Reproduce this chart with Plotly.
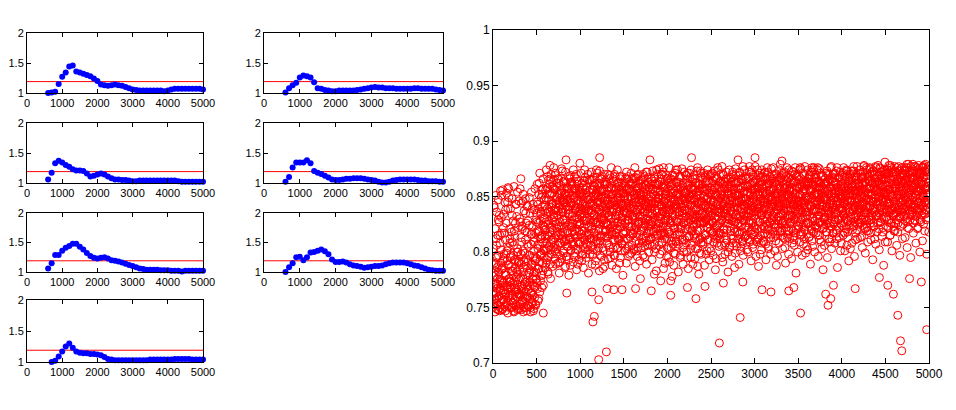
import plotly.graph_objects as go

# ---------------- data ----------------
small_x = list(range(600, 5001, 100))  # sample positions of the small-panel curves
threshold = 1.19

panel1 = [1.00, 1.01, 1.02, 1.15, 1.27, 1.34, 1.44, 1.46, 1.36, 1.34, 1.32, 1.30, 1.28, 1.24, 1.20,
          1.14, 1.13, 1.12, 1.13, 1.14, 1.13, 1.12, 1.10, 1.08, 1.06, 1.05, 1.04, 1.04, 1.04, 1.04,
          1.04, 1.04, 1.04, 1.03, 1.04, 1.06, 1.07, 1.07, 1.07, 1.07, 1.07, 1.07, 1.07, 1.07, 1.06]
panel2 = [1.01, 1.08, 1.13, 1.17, 1.26, 1.29, 1.28, 1.26, 1.18, 1.08, 1.07, 1.05, 1.04, 1.03, 1.03,
          1.04, 1.04, 1.04, 1.04, 1.04, 1.05, 1.06, 1.07, 1.08, 1.09, 1.10, 1.09, 1.09, 1.08, 1.08,
          1.08, 1.07, 1.07, 1.07, 1.07, 1.07, 1.08, 1.08, 1.07, 1.07, 1.07, 1.07, 1.06, 1.05, 1.04]
panel3 = [1.06, 1.17, 1.33, 1.37, 1.34, 1.30, 1.27, 1.23, 1.21, 1.21, 1.20, 1.16, 1.11, 1.12, 1.14,
          1.16, 1.14, 1.11, 1.08, 1.06, 1.06, 1.05, 1.05, 1.04, 1.03, 1.03, 1.04, 1.04, 1.04, 1.04,
          1.04, 1.04, 1.04, 1.04, 1.04, 1.04, 1.04, 1.03, 1.02, 1.02, 1.02, 1.02, 1.02, 1.02, 1.02]
panel4 = [1.02, 1.10, 1.26, 1.34, 1.34, 1.34, 1.38, 1.33, 1.20, 1.17, 1.15, 1.12, 1.09, 1.06, 1.05,
          1.05, 1.06, 1.07, 1.07, 1.08, 1.08, 1.08, 1.07, 1.06, 1.05, 1.04, 1.02, 1.01, 1.01, 1.02,
          1.04, 1.05, 1.06, 1.06, 1.06, 1.06, 1.06, 1.05, 1.04, 1.04, 1.03, 1.03, 1.03, 1.02, 1.02]
panel5 = [1.06, 1.15, 1.29, 1.29, 1.36, 1.41, 1.44, 1.48, 1.48, 1.43, 1.38, 1.32, 1.27, 1.24, 1.23,
          1.24, 1.25, 1.23, 1.20, 1.19, 1.18, 1.16, 1.14, 1.12, 1.10, 1.08, 1.06, 1.05, 1.04, 1.04,
          1.04, 1.04, 1.03, 1.03, 1.03, 1.02, 1.02, 1.02, 1.01, 1.02, 1.02, 1.02, 1.02, 1.02, 1.02]
panel6 = [1.00, 1.08, 1.15, 1.25, 1.26, 1.20, 1.25, 1.33, 1.34, 1.36, 1.38, 1.35, 1.30, 1.21, 1.17,
          1.17, 1.18, 1.16, 1.13, 1.11, 1.10, 1.09, 1.07, 1.08, 1.09, 1.10, 1.10, 1.11, 1.13, 1.15,
          1.16, 1.16, 1.16, 1.16, 1.15, 1.13, 1.11, 1.10, 1.08, 1.06, 1.04, 1.03, 1.02, 1.02, 1.02]
panel7 = [0.98, 1.00, 1.02, 1.09, 1.17, 1.25, 1.30, 1.23, 1.17, 1.15, 1.14, 1.14, 1.13, 1.13, 1.12,
          1.11, 1.08, 1.05, 1.04, 1.03, 1.03, 1.03, 1.03, 1.03, 1.03, 1.03, 1.03, 1.03, 1.03, 1.04,
          1.04, 1.04, 1.04, 1.04, 1.04, 1.04, 1.05, 1.05, 1.05, 1.05, 1.05, 1.04, 1.04, 1.04, 1.04]
panels = [panel1, panel2, panel3, panel4, panel5, panel6, panel7]

# big scatter cloud, values in thousandths, samples evenly spread over 0..5000
cloud_a = [
    762, 781, 753, 840, 771, 758, 795, 749, 806, 767, 776, 752, 829, 788, 760, 747, 815, 773, 755, 851,
    770, 748, 786, 763, 822, 757, 794, 751, 769, 838, 779, 754, 801, 766, 745, 789, 857, 761, 774, 812,
    756, 783, 768, 750, 833, 772, 759, 797, 746, 819, 764, 785, 752, 843, 777, 760, 803, 749, 791, 766,
    775, 753, 827, 761, 789, 748, 809, 767, 756, 846, 782, 750, 771, 799, 758, 835, 764, 747, 818, 779,
    759, 792, 751, 824, 770, 784, 746, 807, 763, 755, 839, 776, 761, 796, 749, 813, 768, 787, 752, 829,
    781, 845, 767, 803, 826, 758, 862, 791, 814, 774, 836, 799, 768, 852, 808, 783, 831, 795, 820, 842,
    812, 856, 790, 835, 803, 868, 782, 825, 847, 797, 861, 818, 776, 840, 809, 853, 829, 787, 844, 865,
    832, 851, 806, 869, 789, 843, 822, 858, 798, 837, 815, 862, 781, 846, 827, 808, 855, 794, 839, 873,
    818, 847, 801, 864, 829, 786, 852, 811, 841, 796, 859, 824, 805, 848, 779, 834, 866, 813, 845, 802,
    844, 807, 857, 826, 791, 849, 816, 868, 799, 838, 853, 821, 784, 861, 830, 809, 846, 793, 856, 825,
    809, 854, 835, 797, 862, 819, 843, 786, 850, 828, 803, 867, 815, 839, 795, 858, 831, 806, 847, 781,
    851, 823, 798, 865, 837, 812, 844, 789, 856, 827, 802, 860, 834, 817, 848, 792, 853, 826, 810, 871,
    827, 845, 804, 859, 783, 838, 866, 813, 849, 796, 834, 855, 820, 801, 863, 829, 787, 846, 818, 852,
    840, 808, 861, 825, 794, 852, 833, 816, 869, 800, 843, 822, 857, 788, 836, 848, 811, 864, 827, 797,
    815, 856, 830, 785, 847, 821, 862, 804, 839, 853, 812, 868, 795, 843, 826, 858, 807, 834, 779, 850,
    853, 819, 844, 801, 866, 835, 790, 857, 828, 812, 848, 863, 823, 798, 840, 855, 816, 871, 832, 806,
    829, 862, 803, 845, 820, 853, 787, 838, 867, 814, 849, 796, 858, 825, 841, 808, 864, 832, 776, 851,
    846, 812, 859, 831, 797, 854, 822, 868, 805, 841, 826, 860, 789, 848, 817, 835, 863, 800, 843, 828,
    807, 850, 825, 866, 839, 793, 856, 818, 844, 831, 780, 861, 814, 848, 803, 857, 835, 870, 821, 845,
    861, 826, 843, 798, 855, 817, 870, 834, 809, 849, 823, 785, 858, 841, 812, 864, 829, 852, 796, 838,
    820, 848, 803, 862, 836, 791, 853, 828, 866, 810, 845, 778, 857, 824, 840, 799, 869, 833, 815, 851,
    843, 805, 859, 827, 846, 782, 863, 818, 836, 852, 797, 867, 823, 840, 811, 855, 789, 848, 831, 872,
    811, 854, 832, 869, 800, 845, 821, 860, 785, 838, 850, 814, 866, 829, 795, 857, 842, 806, 863, 825,
    858, 823, 840, 794, 862, 816, 849, 833, 873, 803, 844, 827, 780, 855, 837, 812, 868, 846, 798, 831,
    834, 866, 809, 850, 826, 788, 857, 841, 815, 863, 830, 801, 848, 822, 870, 837, 793, 853, 819, 845,
    801, 847, 862, 828, 842, 797, 856, 815, 868, 835, 784, 851, 824, 843, 808, 860, 832, 874, 817, 839,
    849, 817, 835, 870, 806, 852, 829, 791, 861, 843, 820, 857, 798, 846, 834, 866, 811, 838, 855, 782,
    826, 861, 843, 804, 858, 819, 837, 867, 796, 849, 831, 812, 864, 840, 786, 853, 827, 869, 808, 844,
    864, 830, 812, 851, 789, 846, 872, 823, 839, 805, 858, 836, 818, 866, 797, 848, 833, 855, 814, 841,
    815, 848, 867, 832, 854, 800, 843, 826, 877, 809, 851, 838, 792, 862, 820, 845, 869, 807, 836, 857,
    840, 822, 856, 796, 865, 834, 811, 852, 843, 787, 860, 827, 871, 815, 848, 833, 802, 858, 824, 868,
    853, 809, 838, 866, 821, 849, 793, 861, 830, 844, 816, 872, 805, 855, 839, 826, 864, 798, 847, 831,
    828, 869, 845, 813, 857, 836, 801, 863, 822, 850, 788, 841, 867, 819, 853, 832, 808, 860, 844, 879,
    867, 834, 819, 852, 803, 846, 828, 871, 839, 812, 858, 790, 843, 825, 864, 851, 816, 837, 798, 856,
    812, 857, 840, 827, 865, 794, 848, 833, 819, 862, 845, 806, 870, 829, 853, 781, 841, 868, 824, 850,
    846, 823, 868, 809, 851, 838, 875, 816, 844, 797, 859, 831, 807, 863, 842, 820, 855, 799, 836, 864,
    833, 861, 802, 847, 826, 866, 814, 855, 789, 842, 872, 821, 849, 805, 860, 837, 818, 867, 828, 853,
    859, 817, 843, 874, 830, 852, 796, 864, 839, 811, 856, 827, 845, 868, 803, 841, 858, 784, 849, 822,
    806, 848, 831, 862, 818, 857, 841, 795, 870, 826, 852, 836, 809, 865, 844, 823, 877, 812, 855, 838,
    842, 870, 825, 853, 808, 863, 834, 849, 817, 858, 786, 845, 829, 867, 813, 852, 840, 801, 861, 831,
    824, 856, 862, 815, 844, 833, 868, 801, 851, 838, 821, 873, 806, 847, 859, 828, 792, 864, 836, 853,
    865, 832, 847, 808, 859, 873, 823, 841, 855, 796, 867, 839, 817, 852, 844, 877, 812, 861, 829, 848,
    837, 874, 813, 856, 829, 848, 866, 804, 843, 861, 822, 878, 835, 851, 799, 863, 840, 819, 857, 871,
    852, 819, 868, 840, 875, 826, 857, 811, 846, 870, 833, 793, 862, 848, 823, 866, 838, 855, 807, 876,
    818, 863, 845, 878, 831, 854, 802, 869, 840, 827, 859, 872, 814, 849, 836, 865, 788, 853, 842, 874,
    860, 836, 871, 823, 852, 809, 866, 844, 878, 829, 856, 815, 862, 839, 874, 801, 850, 833, 868, 846,
    843, 877, 819, 858, 835, 869, 806, 851, 864, 826, 873, 840, 855, 797, 867, 832, 859, 845, 876, 812,
    871, 825, 856, 840, 874, 813, 862, 849, 830, 867, 804, 858, 843, 879, 821, 853, 838, 869, 795, 861,
    834, 866, 849, 879, 817, 857, 841, 873, 828, 862, 808, 851, 876, 837, 864, 822, 855, 871, 845, 800,
    858, 827, 872, 844, 863, 810, 876, 850, 835, 868, 819, 857, 879, 842, 866, 798, 853, 874, 831, 862,
]
cloud_b = [
    751, 768, 790, 757, 746, 779, 763, 812, 754, 786, 771, 748, 797, 760, 833, 775, 750, 765, 802, 784,
    758, 774, 749, 792, 766, 755, 817, 781, 747, 763, 799, 752, 770, 845, 759, 788, 776, 750, 808, 767,
    773, 750, 787, 761, 809, 754, 779, 747, 768, 793, 757, 826, 764, 751, 782, 771, 748, 800, 762, 790,
    749, 784, 762, 753, 798, 770, 757, 821, 776, 746, 765, 791, 755, 773, 811, 750, 787, 760, 842, 769,
    766, 752, 781, 797, 758, 773, 750, 789, 763, 816, 754, 778, 747, 801, 769, 759, 792, 753, 775, 835,
    794, 772, 818, 756, 839, 785, 807, 764, 828, 798, 849, 779, 815, 790, 857, 770, 823, 803, 837, 786,
    801, 827, 847, 793, 858, 815, 780, 836, 805, 852, 789, 823, 866, 811, 798, 843, 820, 857, 804, 831,
    813, 838, 794, 856, 825, 803, 847, 818, 866, 790, 833, 852, 808, 841, 797, 860, 823, 815, 849, 836,
    836, 799, 821, 853, 810, 844, 787, 862, 829, 805, 850, 817, 838, 793, 857, 826, 812, 869, 801, 842,
    822, 861, 809, 835, 848, 796, 856, 819, 840, 803, 866, 831, 814, 851, 789, 843, 827, 858, 807, 834,
    839, 816, 850, 792, 831, 858, 806, 845, 823, 864, 811, 837, 798, 853, 828, 842, 815, 870, 802, 847,
    817, 843, 829, 856, 806, 838, 865, 821, 797, 849, 833, 812, 859, 840, 788, 827, 852, 814, 845, 801,
    850, 808, 836, 821, 862, 797, 845, 830, 856, 815, 868, 804, 841, 826, 850, 793, 834, 861, 819, 838,
    826, 855, 814, 847, 833, 806, 866, 821, 842, 795, 858, 830, 818, 852, 839, 803, 846, 824, 870, 811,
    845, 820, 858, 836, 803, 849, 827, 812, 863, 834, 790, 855, 822, 844, 808, 868, 831, 841, 817, 853,
    810, 837, 826, 859, 818, 844, 803, 866, 835, 850, 796, 829, 857, 814, 840, 823, 861, 799, 848, 832,
    855, 816, 840, 802, 867, 831, 848, 822, 810, 857, 836, 869, 804, 845, 827, 853, 792, 838, 861, 819,
    823, 849, 808, 865, 836, 819, 843, 795, 857, 830, 814, 852, 839, 872, 806, 844, 825, 858, 811, 835,
    840, 812, 861, 827, 846, 805, 834, 857, 819, 866, 800, 843, 829, 851, 783, 862, 837, 816, 848, 826,
    806, 851, 832, 863, 815, 842, 822, 870, 801, 836, 859, 817, 846, 828, 790, 855, 833, 844, 812, 866,
    857, 834, 795, 843, 818, 865, 826, 849, 804, 838, 861, 813, 832, 853, 788, 846, 822, 871, 841, 809,
    828, 863, 816, 839, 852, 807, 844, 830, 868, 795, 856, 821, 847, 811, 835, 860, 826, 800, 850, 838,
    846, 821, 853, 808, 837, 862, 795, 849, 827, 814, 871, 833, 842, 803, 858, 819, 847, 831, 789, 856,
    815, 848, 829, 866, 803, 839, 854, 820, 845, 787, 862, 831, 811, 851, 826, 873, 808, 842, 835, 858,
    861, 807, 842, 827, 855, 816, 869, 834, 798, 848, 822, 864, 811, 840, 853, 829, 803, 858, 836, 819,
    833, 856, 817, 871, 826, 846, 809, 838, 860, 822, 852, 794, 843, 867, 813, 836, 851, 825, 805, 863,
    812, 839, 864, 828, 851, 795, 843, 870, 817, 835, 859, 806, 848, 826, 866, 839, 820, 853, 832, 800,
    852, 829, 805, 846, 837, 863, 815, 853, 828, 872, 808, 841, 856, 821, 845, 799, 862, 834, 851, 818,
    825, 857, 840, 869, 816, 832, 853, 801, 847, 866, 824, 839, 810, 858, 842, 828, 874, 813, 846, 833,
    848, 831, 802, 859, 838, 867, 822, 845, 811, 853, 835, 872, 816, 841, 856, 804, 837, 850, 823, 862,
    818, 864, 836, 851, 809, 843, 874, 827, 858, 813, 840, 854, 798, 846, 867, 821, 835, 861, 810, 844,
    837, 823, 859, 845, 872, 807, 852, 834, 866, 820, 848, 803, 839, 862, 827, 855, 816, 842, 875, 829,
    866, 841, 818, 856, 832, 870, 825, 846, 810, 861, 837, 853, 796, 849, 828, 864, 841, 819, 857, 835,
    829, 852, 871, 815, 843, 826, 860, 837, 856, 804, 848, 868, 822, 840, 859, 813, 850, 833, 874, 819,
    855, 833, 847, 869, 821, 858, 808, 843, 872, 830, 811, 856, 839, 864, 817, 848, 834, 859, 800, 842,
    821, 865, 838, 852, 876, 815, 846, 829, 861, 840, 823, 855, 870, 812, 844, 836, 862, 826, 850, 805,
    847, 826, 860, 836, 813, 869, 842, 855, 823, 848, 866, 810, 857, 831, 874, 839, 852, 800, 845, 863,
    836, 853, 822, 864, 846, 815, 858, 833, 875, 826, 842, 862, 809, 850, 838, 869, 821, 847, 831, 857,
    862, 829, 855, 840, 871, 818, 847, 863, 834, 852, 812, 866, 843, 826, 858, 837, 803, 853, 844, 870,
    817, 849, 836, 867, 829, 856, 842, 873, 812, 846, 861, 830, 854, 839, 822, 868, 844, 857, 808, 851,
    848, 837, 871, 826, 859, 843, 817, 864, 835, 852, 874, 829, 846, 813, 861, 840, 856, 824, 869, 803,
    831, 858, 842, 866, 820, 851, 838, 873, 827, 845, 862, 811, 856, 834, 869, 848, 825, 842, 859, 836,
    860, 826, 852, 839, 867, 814, 857, 845, 872, 830, 849, 836, 863, 821, 854, 841, 876, 828, 848, 809,
    838, 864, 829, 857, 842, 870, 817, 851, 835, 862, 845, 826, 873, 840, 858, 812, 849, 866, 833, 855,
    856, 833, 868, 846, 821, 862, 850, 838, 875, 827, 853, 841, 866, 818, 859, 845, 831, 870, 852, 809,
    831, 870, 847, 859, 838, 874, 822, 856, 843, 866, 815, 852, 837, 876, 826, 861, 848, 835, 872, 819,
    866, 840, 857, 826, 872, 849, 836, 863, 818, 854, 877, 831, 859, 845, 868, 823, 852, 838, 864, 842,
    846, 862, 833, 870, 853, 828, 866, 841, 857, 876, 822, 850, 837, 864, 845, 872, 829, 856, 843, 867,
    859, 838, 873, 849, 826, 865, 853, 840, 877, 832, 858, 846, 869, 821, 855, 874, 836, 861, 848, 829,
    842, 871, 856, 833, 867, 850, 877, 825, 861, 845, 873, 838, 858, 829, 866, 852, 875, 840, 863, 818,
]
cloud_c = [
    803, 778, 842, 764, 821, 789, 851, 771, 836, 796, 758, 815, 847, 782, 827, 767, 808, 855, 790, 831,
    817, 785, 856, 772, 834, 798, 762, 845, 811, 779, 826, 853, 792, 768, 839, 804, 849, 776, 821, 795,
    839, 796, 818, 761, 848, 783, 828, 806, 859, 774, 814, 792, 843, 766, 832, 800, 854, 780, 822, 846,
    792, 830, 857, 777, 813, 844, 769, 823, 801, 852, 786, 837, 760, 819, 848, 794, 826, 773, 841, 807,
    828, 805, 781, 849, 797, 835, 763, 816, 854, 788, 824, 770, 843, 809, 782, 838, 857, 795, 817, 776,
    827, 861, 806, 843, 785, 852, 819, 871, 797, 834, 812, 856, 779, 841, 824, 866, 801, 847, 830, 815,
    849, 820, 874, 808, 839, 857, 795, 865, 828, 814, 852, 836, 802, 870, 843, 822, 859, 811, 834, 876,
    857, 827, 801, 871, 840, 815, 862, 833, 849, 806, 866, 823, 844, 791, 853, 817, 836, 875, 812, 846,
    829, 863, 845, 809, 851, 826, 872, 838, 796, 857, 819, 847, 834, 868, 811, 853, 841, 788, 860, 823,
    863, 832, 818, 851, 874, 806, 842, 829, 857, 813, 839, 870, 825, 847, 802, 864, 836, 818, 852, 880,
    826, 846, 871, 813, 838, 853, 798, 860, 835, 819, 874, 842, 828, 856, 807, 849, 865, 823, 837, 815,
    838, 865, 812, 848, 826, 872, 835, 857, 805, 843, 867, 818, 851, 829, 862, 809, 840, 874, 831, 856,
    861, 819, 851, 838, 873, 825, 810, 854, 841, 866, 829, 848, 785, 857, 837, 870, 814, 843, 863, 826,
    813, 847, 835, 870, 824, 858, 843, 804, 862, 831, 852, 876, 816, 845, 823, 866, 838, 797, 855, 842,
    868, 833, 817, 852, 839, 874, 826, 848, 810, 859, 837, 823, 866, 846, 801, 854, 829, 862, 842, 816,
    836, 862, 849, 826, 853, 812, 872, 840, 856, 829, 868, 805, 843, 861, 834, 819, 850, 838, 866, 823,
    842, 817, 866, 851, 833, 876, 824, 859, 845, 801, 855, 838, 870, 827, 862, 815, 847, 833, 853, 804,
    865, 839, 828, 847, 870, 813, 851, 836, 861, 824, 845, 872, 810, 856, 841, 829, 867, 848, 819, 858,
    823, 856, 843, 812, 864, 835, 873, 827, 852, 807, 868, 838, 855, 821, 846, 874, 815, 860, 832, 849,
    848, 875, 819, 854, 830, 866, 841, 808, 859, 837, 872, 826, 845, 861, 816, 852, 838, 869, 824, 804,
    866, 829, 851, 838, 876, 816, 842, 860, 826, 853, 835, 869, 807, 848, 862, 821, 843, 855, 798, 874,
    810, 852, 836, 874, 822, 859, 847, 833, 868, 815, 843, 858, 829, 875, 837, 804, 862, 826, 853, 841,
    853, 838, 869, 825, 848, 813, 871, 843, 856, 830, 861, 822, 847, 808, 874, 836, 852, 819, 866, 834,
    831, 869, 847, 856, 812, 862, 838, 825, 851, 876, 819, 843, 860, 834, 799, 857, 828, 871, 846, 813,
    845, 826, 858, 871, 833, 850, 815, 867, 842, 829, 856, 838, 874, 811, 849, 862, 825, 841, 869, 832,
    870, 839, 827, 852, 864, 818, 845, 873, 831, 858, 812, 866, 837, 850, 824, 876, 842, 815, 859, 836,
    826, 862, 848, 816, 855, 877, 833, 844, 869, 821, 851, 838, 863, 808, 847, 872, 830, 857, 841, 866,
    858, 831, 874, 840, 823, 866, 849, 812, 857, 836, 870, 845, 827, 861, 818, 852, 875, 833, 846, 805,
    838, 851, 826, 863, 845, 871, 817, 856, 832, 848, 865, 809, 843, 877, 829, 854, 840, 868, 822, 859,
    866, 823, 854, 843, 812, 859, 835, 872, 828, 846, 861, 819, 857, 833, 874, 841, 826, 863, 848, 815,
    853, 877, 830, 845, 866, 821, 858, 839, 812, 869, 836, 851, 827, 863, 842, 808, 874, 833, 857, 846,
    829, 848, 871, 817, 854, 840, 866, 825, 859, 876, 834, 847, 862, 821, 850, 868, 837, 813, 856, 843,
    847, 833, 858, 876, 825, 862, 841, 853, 815, 870, 829, 845, 865, 838, 822, 857, 874, 832, 849, 818,
    841, 869, 826, 848, 864, 835, 813, 857, 872, 844, 827, 861, 838, 852, 876, 819, 846, 866, 830, 855,
    867, 826, 861, 838, 849, 873, 832, 857, 814, 864, 843, 829, 852, 876, 837, 820, 868, 845, 858, 831,
    836, 857, 843, 874, 827, 851, 866, 818, 860, 835, 871, 846, 825, 857, 840, 877, 831, 849, 863, 816,
    859, 840, 874, 826, 863, 850, 833, 869, 841, 856, 819, 872, 845, 828, 861, 838, 876, 852, 823, 866,
    824, 867, 849, 858, 838, 876, 827, 852, 863, 815, 848, 871, 836, 859, 825, 853, 842, 868, 830, 861,
    850, 833, 866, 847, 825, 861, 873, 838, 855, 829, 869, 843, 821, 858, 876, 834, 851, 866, 840, 817,
    863, 846, 827, 871, 853, 838, 862, 820, 858, 876, 835, 849, 867, 829, 855, 843, 872, 826, 859, 848,
    839, 869, 851, 834, 876, 822, 858, 847, 866, 830, 855, 842, 873, 818, 851, 864, 836, 857, 845, 870,
    855, 828, 873, 846, 861, 837, 852, 877, 824, 868, 841, 856, 832, 865, 849, 820, 871, 838, 854, 862,
    827, 858, 842, 870, 833, 862, 850, 824, 867, 845, 877, 838, 856, 829, 868, 847, 835, 874, 822, 853,
    866, 847, 831, 859, 876, 841, 864, 829, 852, 872, 838, 857, 845, 823, 869, 836, 861, 877, 848, 833,
    843, 872, 858, 826, 864, 849, 835, 876, 854, 840, 867, 830, 861, 847, 873, 822, 856, 839, 866, 851,
    853, 866, 839, 874, 829, 860, 848, 871, 836, 857, 844, 878, 826, 865, 851, 838, 872, 857, 841, 823,
    834, 855, 872, 846, 861, 829, 876, 851, 838, 866, 842, 858, 874, 831, 849, 863, 836, 870, 855, 847,
    869, 839, 850, 876, 832, 865, 847, 857, 874, 838, 861, 827, 853, 870, 845, 834, 866, 851, 877, 840,
    847, 873, 836, 858, 867, 843, 877, 829, 861, 850, 838, 871, 855, 833, 866, 844, 878, 839, 857, 868,
    870, 846, 861, 837, 876, 853, 841, 867, 849, 878, 834, 859, 845, 872, 856, 838, 869, 851, 877, 843,
]
cloud_span = 5000

# isolated points
outlier_x = [577, 846, 1135, 1146, 1162, 1212, 1212, 1300, 1308, 1385, 1480, 1635, 1815, 1923, 2038,
             2038, 2230, 2327, 2431, 2596, 2642, 2835, 2865, 3085, 3188, 3392, 3450, 3527, 3815, 3842,
             3873, 3904, 4154, 4431, 4527, 4592, 4642, 4673, 4688, 4777, 4912, 4973,
             173, 319, 654, 838, 1223, 1800, 1954, 2277, 2810, 3005, 3314, 3658, 4495, 4748, 4931]
outlier_y = [0.745, 0.763, 0.764, 0.737, 0.742, 0.757, 0.703, 0.710, 0.767, 0.766, 0.766, 0.767, 0.765,
             0.774, 0.761, 0.774, 0.768, 0.758, 0.769, 0.718, 0.772, 0.741, 0.773, 0.766, 0.764, 0.765,
             0.768, 0.745, 0.762, 0.752, 0.758, 0.770, 0.767, 0.777, 0.770, 0.762, 0.743, 0.720, 0.711,
             0.776, 0.773, 0.730,
             0.858, 0.866, 0.878, 0.883, 0.885, 0.883, 0.876, 0.885, 0.883, 0.885, 0.882, 0.876, 0.881,
             0.879, 0.876]

small_xticks = [0, 1000, 2000, 3000, 4000, 5000]
small_yticks = [1, 1.5, 2]
big_xticks = [0, 500, 1000, 1500, 2000, 2500, 3000, 3500, 4000, 4500, 5000]
big_yticks = [0.7, 0.75, 0.8, 0.85, 0.9, 0.95, 1]

# ---------------- layout geometry (pixels) ----------------
W, H = 956, 410
col_px = [(27, 203), (264, 443)]
row_px = [(33, 93), (123, 183), (213, 272), (300, 362)]
big_px = ((493, 929), (30, 363))
panel_cells = [(0, 0), (0, 1), (1, 0), (1, 1), (2, 0), (2, 1), (3, 0)]


def dx(a, b):
    return [a / W, b / W]


def dy(top, bottom):
    return [1 - bottom / H, 1 - top / H]


def axis_style(size):
    return dict(showline=True, linecolor="black", linewidth=1, mirror="allticks",
                ticks="inside", ticklen=4, tickcolor="black", tickwidth=1,
                showgrid=False, zeroline=False, automargin=False, fixedrange=True,
                tickfont=dict(family="Arial", size=size, color="black"))


fig = go.Figure()
layout = dict(template="none", width=W, height=H, margin=dict(l=0, r=0, t=0, b=0, pad=0),
              paper_bgcolor="white", plot_bgcolor="white", showlegend=False)

for i, (vals, (r, c)) in enumerate(zip(panels, panel_cells)):
    n = i + 1
    xa = "x" if n == 1 else f"x{n}"
    ya = "y" if n == 1 else f"y{n}"
    fig.add_trace(go.Scatter(x=[0, 5000], y=[threshold, threshold], mode="lines",
                             line=dict(color="red", width=1), xaxis=xa, yaxis=ya,
                             hoverinfo="skip"))
    fig.add_trace(go.Scatter(x=small_x, y=vals, mode="markers",
                             marker=dict(color="#0000FF", size=6, line=dict(width=0)),
                             xaxis=xa, yaxis=ya, cliponaxis=False))
    xs = axis_style(11)
    xs.update(domain=dx(*col_px[c]), range=[0, 5000], tickvals=small_xticks, anchor=ya)
    ys = axis_style(11)
    ys.update(domain=dy(*row_px[r]), range=[1, 2], tickvals=small_yticks, anchor=xa)
    layout["xaxis" if n == 1 else f"xaxis{n}"] = xs
    layout["yaxis" if n == 1 else f"yaxis{n}"] = ys

# big scatter: three interleaved sample sets plus isolated points
step = cloud_span / len(cloud_a)
cloud_x = ([i * step for i in range(len(cloud_a))]
           + [(i + 0.5) * step for i in range(len(cloud_b))]
           + [(i + 0.25) * step for i in range(len(cloud_c))]
           + outlier_x)
cloud_y = ([v / 1000 for v in cloud_a] + [v / 1000 for v in cloud_b]
           + [v / 1000 for v in cloud_c] + outlier_y)
fig.add_trace(go.Scatter(x=cloud_x, y=cloud_y, mode="markers",
                         marker=dict(symbol="circle-open", size=8, color="#FF0000",
                                     line=dict(width=1, color="#FF0000")),
                         xaxis="x8", yaxis="y8"))
bx = axis_style(12)
bx.update(domain=dx(*big_px[0]), range=[0, 5000], tickvals=big_xticks, anchor="y8", ticklen=5)
by = axis_style(12)
by.update(domain=dy(*big_px[1]), range=[0.7, 1], tickvals=big_yticks, anchor="x8", ticklen=5)
layout["xaxis8"] = bx
layout["yaxis8"] = by

fig.update_layout(**layout)
fig.write_html("out.html")
